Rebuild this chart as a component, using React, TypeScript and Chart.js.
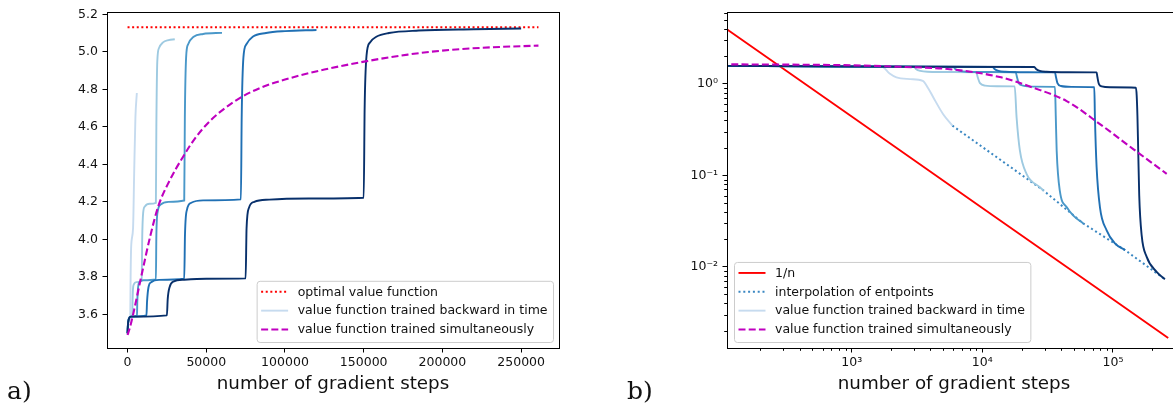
import React, { useEffect, useRef } from 'react';
import { Chart, registerables } from 'chart.js';

Chart.register(...registerables);

const FONT = '"DejaVu Sans", "Liberation Sans", sans-serif';
const BLUES = ['#c6dbef', '#9ecae1', '#4a98c9', '#2070b4', '#08306b'];
const RED = '#ff0000';
const MAGENTA = '#bf00bf';
const INTERP = '#3a87c2';

// ---------- left panel (a): value vs gradient steps ----------
const optimalValue = 5.131;
const optimalSteps = [0, 261000];

const simulSteps = [0, 1500, 4200, 8400, 14500, 19500, 26500, 34800, 43000, 52800, 62000, 72000, 85000, 100000, 125000, 152000, 178000, 205000, 232000, 261000];
const simulValues = [3.49, 3.53, 3.625, 3.79, 4.02, 4.176, 4.31, 4.434, 4.54, 4.635, 4.70, 4.757, 4.81, 4.852, 4.905, 4.95, 4.985, 5.01, 5.024, 5.033];

const back1Steps = [0, 400, 1700, 1950, 2300, 3500, 4200, 5000, 5900];
const back1Values = [3.50, 3.56, 3.58, 3.80, 3.96, 4.06, 4.35, 4.65, 4.78];

const back2Steps = [0, 300, 800, 2000, 3000, 3150, 3450, 4000, 5500, 9000, 9300, 9900, 11000, 14000, 18000, 18300, 18900, 20000, 22500, 26000, 30000];
const back2Values = [3.50, 3.55, 3.575, 3.588, 3.593, 3.66, 3.735, 3.76, 3.772, 3.778, 4.0, 4.14, 4.175, 4.19, 4.195, 4.6, 4.95, 5.02, 5.05, 5.062, 5.067];

const back3Steps = [0, 300, 800, 2000, 6000, 6200, 6700, 7600, 10000, 18000, 18300, 19200, 21000, 26000, 36000, 36400, 37200, 38500, 42000, 48000, 60000];
const back3Values = [3.50, 3.55, 3.575, 3.588, 3.593, 3.67, 3.745, 3.772, 3.782, 3.786, 4.02, 4.15, 4.185, 4.2, 4.207, 4.65, 4.97, 5.04, 5.08, 5.095, 5.101];

const back4Steps = [0, 300, 800, 2000, 12000, 12400, 13300, 15000, 20000, 36000, 36500, 37800, 40500, 48000, 72000, 72500, 73600, 75500, 79500, 88000, 100000, 120000];
const back4Values = [3.50, 3.55, 3.575, 3.588, 3.594, 3.67, 3.745, 3.772, 3.784, 3.79, 4.03, 4.16, 4.195, 4.208, 4.213, 4.65, 4.97, 5.04, 5.08, 5.10, 5.11, 5.116];

const back5Steps = [0, 300, 800, 2000, 25000, 25500, 26800, 29000, 36000, 50000, 75000, 75600, 77200, 80500, 90000, 115000, 150000, 150600, 151800, 154000, 158000, 166000, 185000, 220000, 250000];
const back5Values = [3.50, 3.55, 3.575, 3.588, 3.595, 3.68, 3.748, 3.775, 3.785, 3.79, 3.792, 4.06, 4.17, 4.2, 4.212, 4.218, 4.222, 4.7, 4.98, 5.05, 5.08, 5.10, 5.113, 5.12, 5.124];

const leftXTicks = [0, 50000, 100000, 150000, 200000, 250000];
const leftYTicks = [3.6, 3.8, 4.0, 4.2, 4.4, 4.6, 4.8, 5.0, 5.2];

// ---------- right panel (b): error vs gradient steps (log-log) ----------
const refSteps = [100, 1000, 10000, 100000, 265000];
const refErrors = [4.4, 0.44, 0.044, 0.0044, 0.00166];

const interpSteps = [5900, 29500, 59200, 123700, 250000];
const interpErrors = [0.35, 0.068, 0.0298, 0.0152, 0.0073];

const rSimulSteps = [100, 500, 1000, 2330, 5640, 13600, 24500, 44200, 79500, 143000, 258000];
const rSimulErrors = [1.64, 1.62, 1.6, 1.54, 1.45, 1.19, 0.91, 0.65, 0.364, 0.194, 0.104];

const rBack1Steps = [100, 1000, 1700, 1950, 2200, 2800, 3500, 3850, 4200, 5000, 5900];
const rBack1Errors = [1.58, 1.565, 1.55, 1.3, 1.18, 1.13, 1.08, 0.9, 0.72, 0.47, 0.35];

const rBack2Steps = [100, 1000, 3000, 3100, 3350, 3800, 6000, 9000, 9200, 9600, 10500, 13000, 17700, 18300, 19400, 21800, 27600, 29500];
const rBack2Errors = [1.58, 1.55, 1.538, 1.46, 1.39, 1.36, 1.35, 1.345, 1.2, 1.02, 0.96, 0.945, 0.94, 0.43, 0.186, 0.104, 0.074, 0.068];

const rBack3Steps = [100, 1000, 6000, 6200, 6700, 7500, 11000, 18000, 18400, 19000, 20500, 25000, 36000, 36500, 37100, 39200, 44200, 50000, 59200];
const rBack3Errors = [1.58, 1.55, 1.538, 1.46, 1.39, 1.36, 1.35, 1.345, 1.2, 1.02, 0.96, 0.935, 0.93, 0.45, 0.186, 0.068, 0.045, 0.036, 0.0298];

const rBack4Steps = [100, 1000, 5000, 12000, 12400, 13300, 15000, 22000, 36000, 36600, 37600, 40000, 48000, 72000, 72800, 75000, 79500, 89500, 103500, 123700];
const rBack4Errors = [1.58, 1.55, 1.54, 1.536, 1.46, 1.39, 1.36, 1.345, 1.34, 1.2, 1.02, 0.95, 0.93, 0.92, 0.43, 0.123, 0.045, 0.025, 0.018, 0.0152];

const rBack5Steps = [100, 1000, 5000, 25000, 25800, 27500, 31000, 45000, 75000, 76000, 78000, 82000, 95000, 150000, 152000, 154000, 156000, 159000, 166000, 181000, 216000, 250000];
const rBack5Errors = [1.58, 1.55, 1.54, 1.536, 1.46, 1.39, 1.36, 1.345, 1.34, 1.2, 1.0, 0.94, 0.92, 0.91, 0.75, 0.45, 0.2, 0.06, 0.022, 0.0129, 0.0088, 0.0073];

const rightXMajor = [1000, 10000, 100000];
const rightXMajorLabels = ['10³', '10⁴', '10⁵'];
const rightXMinor = [200, 300, 400, 500, 600, 700, 800, 900, 2000, 3000, 4000, 5000, 6000, 7000, 8000, 9000, 20000, 30000, 40000, 50000, 60000, 70000, 80000, 90000, 200000, 300000];
const rightYMajor = [0.01, 0.1, 1];
const rightYMajorLabels = ['10⁻²', '10⁻¹', '10⁰'];
const rightYMinor = [0.002, 0.003, 0.004, 0.005, 0.006, 0.007, 0.008, 0.009, 0.02, 0.03, 0.04, 0.05, 0.06, 0.07, 0.08, 0.09, 0.2, 0.3, 0.4, 0.5, 0.6, 0.7, 0.8, 0.9, 2, 3, 4, 5, 6];

const LABEL_A = 'a)';
const LABEL_B = 'b)';
const X_TITLE = 'number of gradient steps';

// ---------- helpers ----------
const zip = (xs: number[], ys: number[]) => xs.map((x, i) => ({ x, y: ys[i] }));

function line(label: string, data: { x: number; y: number }[], color: string, width: number, dash: number[] = [], straight = false): any {
  return {
    label,
    data,
    borderColor: color,
    backgroundColor: color,
    borderWidth: width,
    borderDash: dash,
    pointRadius: 0,
    fill: false,
    cubicInterpolationMode: straight ? 'default' : 'monotone',
    tension: 0,
  };
}

const spinePlugin = {
  id: 'spines',
  afterDatasetsDraw(chart: any) {
    const { ctx, chartArea: a } = chart;
    ctx.save();
    ctx.strokeStyle = '#000';
    ctx.lineWidth = 1;
    ctx.setLineDash([]);
    ctx.strokeRect(Math.round(a.left) + 0.5, Math.round(a.top) + 0.5, Math.round(a.right - a.left), Math.round(a.bottom - a.top));
    ctx.restore();
  },
};

function minorTickPlugin(xMinor: number[], yMinor: number[]) {
  return {
    id: 'minorTicks',
    afterDraw(chart: any) {
      const { ctx, chartArea: a, scales } = chart;
      ctx.save();
      ctx.strokeStyle = '#000';
      ctx.lineWidth = 1;
      ctx.beginPath();
      xMinor.forEach((v) => {
        const px = Math.round(scales.x.getPixelForValue(v)) + 0.5;
        if (px < a.left || px > a.right) return;
        ctx.moveTo(px, a.bottom);
        ctx.lineTo(px, a.bottom + 2.8);
      });
      yMinor.forEach((v) => {
        const py = Math.round(scales.y.getPixelForValue(v)) + 0.5;
        if (py < a.top || py > a.bottom) return;
        ctx.moveTo(a.left, py);
        ctx.lineTo(a.left - 2.8, py);
      });
      ctx.stroke();
      ctx.restore();
    },
  };
}

function legendPlugin(entries: { label: string; ds: number }[], anchor: 'left' | 'right') {
  return {
    id: 'mplLegend',
    afterDraw(chart: any) {
      const { ctx, chartArea: a } = chart;
      ctx.save();
      ctx.font = `12.5px ${FONT}`;
      const textW = Math.max(...entries.map((e) => ctx.measureText(e.label).width));
      const pad = 4.5;
      const handle = 27;
      const gap = 9.5;
      const rowH = 18.85;
      const w = pad + handle + gap + textW + 5.5;
      const h = (entries.length - 1) * rowH + 23.5;
      const bottom = a.bottom - 6;
      const left = anchor === 'right' ? a.right - 6 - w : a.left + 7;
      const top = bottom - h;
      ctx.beginPath();
      if ((ctx as any).roundRect) (ctx as any).roundRect(left + 0.5, top + 0.5, w, h, 3);
      else ctx.rect(left + 0.5, top + 0.5, w, h);
      ctx.fillStyle = 'rgba(255,255,255,0.8)';
      ctx.fill();
      ctx.strokeStyle = '#cccccc';
      ctx.lineWidth = 1;
      ctx.stroke();
      entries.forEach((e, i) => {
        const y = top + 11 + i * rowH;
        const ds: any = chart.data.datasets[e.ds];
        ctx.beginPath();
        ctx.strokeStyle = ds.borderColor;
        ctx.lineWidth = ds.borderWidth;
        ctx.setLineDash(ds.borderDash || []);
        ctx.moveTo(left + pad, y);
        ctx.lineTo(left + pad + handle, y);
        ctx.stroke();
        ctx.setLineDash([]);
        ctx.fillStyle = '#111';
        ctx.textBaseline = 'middle';
        ctx.textAlign = 'left';
        ctx.fillText(e.label, left + pad + handle + gap, y + 0.5);
      });
      ctx.restore();
    },
  };
}

const tickFont = { family: FONT, size: 12.5 };
const gridOpts = { display: true, drawOnChartArea: false, drawTicks: true, tickLength: 4.5, tickColor: '#000', tickWidth: 1 };
const titleOpts = { display: true, text: X_TITLE, color: '#111', font: { family: FONT, size: 18.3 }, padding: { top: 0, bottom: 8.5 } };

function makeLeft(canvas: HTMLCanvasElement) {
  const datasets = [
    line('value function trained simultaneously', zip(simulSteps, simulValues), MAGENTA, 2.1, [7, 3.2]),
    line('b5', zip(back5Steps, back5Values), BLUES[4], 1.9),
    line('b4', zip(back4Steps, back4Values), BLUES[3], 1.9),
    line('b3', zip(back3Steps, back3Values), BLUES[2], 1.9),
    line('b2', zip(back2Steps, back2Values), BLUES[1], 1.9),
    line('value function trained backward in time', zip(back1Steps, back1Values), BLUES[0], 1.9),
    line('optimal value function', optimalSteps.map((x) => ({ x, y: optimalValue })), RED, 2, [2, 2.6], true),
  ];
  return new Chart(canvas, {
    type: 'line',
    data: { datasets },
    options: {
      responsive: false,
      animation: false,
      devicePixelRatio: 1,
      layout: { padding: { left: 0, top: 11, right: 21, bottom: 1 } },
      plugins: { legend: { display: false }, tooltip: { enabled: false } },
      scales: {
        x: {
          type: 'linear',
          min: -13050,
          max: 274050,
          afterBuildTicks: (s: any) => { s.ticks = leftXTicks.map((v) => ({ value: v })); },
          afterFit: (s: any) => { s.height = 56; },
          ticks: { callback: (v: any) => String(v), font: tickFont, color: '#111', padding: 3, maxRotation: 0, autoSkip: false },
          grid: gridOpts,
          border: { display: false },
          title: titleOpts,
        },
        y: {
          type: 'linear',
          min: 3.421,
          max: 5.212,
          afterBuildTicks: (s: any) => { s.ticks = leftYTicks.map((v) => ({ value: v })); },
          afterFit: (s: any) => { s.width = 107; },
          ticks: { callback: (v: any) => Number(v).toFixed(1), font: tickFont, color: '#111', padding: 4.5, autoSkip: false },
          grid: gridOpts,
          border: { display: false },
        },
      },
    } as any,
    plugins: [
      spinePlugin,
      legendPlugin([
        { label: 'optimal value function', ds: 6 },
        { label: 'value function trained backward in time', ds: 5 },
        { label: 'value function trained simultaneously', ds: 0 },
      ], 'right'),
    ],
  });
}

function makeRight(canvas: HTMLCanvasElement) {
  const datasets = [
    line('value function trained simultaneously', zip(rSimulSteps, rSimulErrors), MAGENTA, 2.1, [7, 3.2]),
    line('b5', zip(rBack5Steps, rBack5Errors), BLUES[4], 1.9),
    line('b4', zip(rBack4Steps, rBack4Errors), BLUES[3], 1.9),
    line('b3', zip(rBack3Steps, rBack3Errors), BLUES[2], 1.9),
    line('b2', zip(rBack2Steps, rBack2Errors), BLUES[1], 1.9),
    line('value function trained backward in time', zip(rBack1Steps, rBack1Errors), BLUES[0], 1.9),
    line('interpolation of entpoints', zip(interpSteps, interpErrors), INTERP, 2, [2, 2.8], true),
    line('1/n', zip(refSteps, refErrors), RED, 1.9, [], true),
  ];
  return new Chart(canvas, {
    type: 'line',
    data: { datasets },
    options: {
      responsive: false,
      animation: false,
      devicePixelRatio: 1,
      layout: { padding: { left: 0, top: 11, right: 19, bottom: 1 } },
      plugins: { legend: { display: false }, tooltip: { enabled: false } },
      scales: {
        x: {
          type: 'logarithmic',
          min: 111,
          max: 332000,
          afterBuildTicks: (s: any) => { s.ticks = rightXMajor.map((v) => ({ value: v })); },
          afterFit: (s: any) => { s.height = 56; },
          ticks: { callback: (v: any) => rightXMajorLabels[rightXMajor.indexOf(Number(v))] ?? '', font: tickFont, color: '#111', padding: 3, maxRotation: 0, autoSkip: false },
          grid: gridOpts,
          border: { display: false },
          title: titleOpts,
        },
        y: {
          type: 'logarithmic',
          min: 0.00129,
          max: 6.13,
          afterBuildTicks: (s: any) => { s.ticks = rightYMajor.map((v) => ({ value: v })); },
          afterFit: (s: any) => { s.width = 107; },
          ticks: { callback: (v: any) => rightYMajorLabels[rightYMajor.indexOf(Number(v))] ?? '', font: tickFont, color: '#111', padding: 4.5, autoSkip: false },
          grid: gridOpts,
          border: { display: false },
        },
      },
    } as any,
    plugins: [
      spinePlugin,
      minorTickPlugin(rightXMinor, rightYMinor),
      legendPlugin([
        { label: '1/n', ds: 7 },
        { label: 'interpolation of entpoints', ds: 6 },
        { label: 'value function trained backward in time', ds: 5 },
        { label: 'value function trained simultaneously', ds: 0 },
      ], 'left'),
    ],
  });
}

export default function App() {
  const leftRef = useRef<HTMLCanvasElement>(null);
  const rightRef = useRef<HTMLCanvasElement>(null);
  useEffect(() => {
    const a = makeLeft(leftRef.current!);
    const b = makeRight(rightRef.current!);
    return () => {
      a.destroy();
      b.destroy();
    };
  }, []);
  const panelLabel: React.CSSProperties = {
    position: 'absolute',
    font: '25px "DejaVu Serif", serif',
    lineHeight: '25px',
    color: '#111',
  };
  return (
    <div style={{ position: 'fixed', left: 0, top: 0, width: 1173, height: 405, overflow: 'hidden', background: '#fff' }}>
      <canvas ref={leftRef} width={580} height={405} style={{ position: 'absolute', left: 0, top: 0, width: 580, height: 405 }} />
      <canvas ref={rightRef} width={580} height={405} style={{ position: 'absolute', left: 620, top: 0, width: 580, height: 405 }} />
      <div style={{ ...panelLabel, left: 7, top: 378 }}>{LABEL_A}</div>
      <div style={{ ...panelLabel, left: 627, top: 378 }}>{LABEL_B}</div>
    </div>
  );
}
